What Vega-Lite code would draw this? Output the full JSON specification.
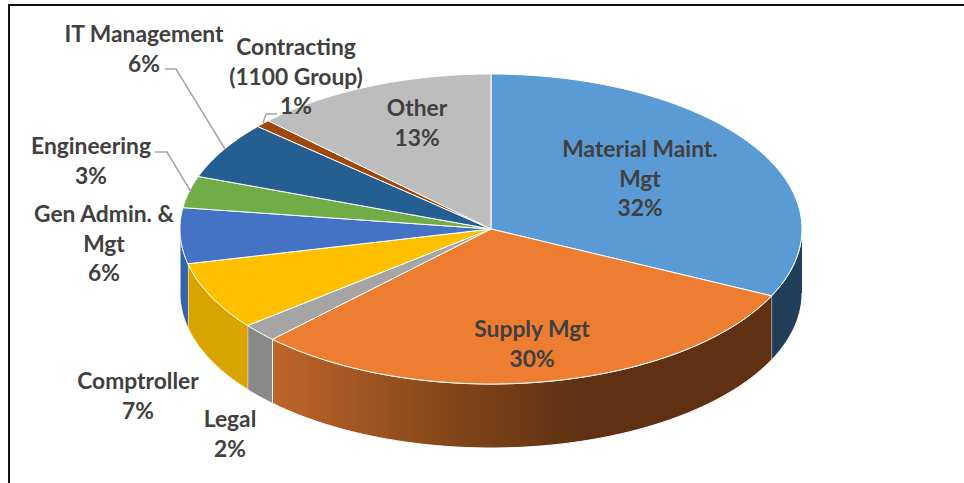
{
"$schema":"https://vega.github.io/schema/vega-lite/v6.json",
"autosize":"none",
"width":964,"height":483,"padding":0,
"background":"white",
"view":{"stroke":null},
"config":{"style":{"cell":{"stroke":null}}},
"datasets":{
"slices":[
{"rank":1,"name":"Material Maint. Mgt","share":32.1,"label":"Material Maint.\nMgt\n32%"},
{"rank":2,"name":"Supply Mgt","share":30.3,"label":"Supply Mgt\n30%"},
{"rank":3,"name":"Legal","share":1.9,"label":"Legal\n2%"},
{"rank":4,"name":"Comptroller","share":7.1,"label":"Comptroller\n7%"},
{"rank":5,"name":"Gen Admin. & Mgt","share":5.8,"label":"Gen Admin. &\nMgt\n6%"},
{"rank":6,"name":"Engineering","share":3.3,"label":"Engineering\n3%"},
{"rank":7,"name":"IT Management","share":6.0,"label":"IT Management\n6%"},
{"rank":8,"name":"Contracting (1100 Group)","share":0.8,"label":"Contracting\n(1100 Group)\n1%"},
{"rank":9,"name":"Other","share":12.7,"label":"Other\n13%"}
],
"callouts":[
{"path":"IT Management","step":1,"px":165,"py":69},
{"path":"IT Management","step":2,"px":176,"py":69},
{"path":"IT Management","step":3,"px":225,"py":149},
{"path":"Engineering","step":1,"px":155,"py":152},
{"path":"Engineering","step":2,"px":167,"py":152},
{"path":"Engineering","step":3,"px":191,"py":192},
{"path":"Contracting","step":1,"px":277,"py":114},
{"path":"Contracting","step":2,"px":266,"py":114},
{"path":"Contracting","step":3,"px":263,"py":123}
],
"frame":[
{"path":"outer","step":1,"px":9,"py":483},
{"path":"outer","step":2,"px":9,"py":5},
{"path":"outer","step":3,"px":964,"py":5}
]
},
"encoding":{
"x":{"field":"px","type":"quantitative","axis":null,"scale":{"domain":[0,964],"nice":false,"zero":false}},
"y":{"field":"py","type":"quantitative","axis":null,"scale":{"domain":[483,0],"nice":false,"zero":false}}
},
"layer":[
{
"data":{"name":"slices"},
"transform":[
{"window":[{"op":"sum","field":"share","as":"cum"}],"sort":[{"field":"rank","order":"ascending"}]},
{"calculate":"max((datum.cum-datum.share)*3.6,90)","as":"w0"},
{"calculate":"min(datum.cum*3.6,270)","as":"w1"},
{"filter":"datum.w1>datum.w0 && datum.name!='Supply Mgt'"},
{"calculate":"sequence(0,122)","as":"steps"},
{"flatten":["steps"],"as":["i"]},
{"calculate":"(datum.w0+(datum.w1-datum.w0)*(datum.i<=60?datum.i:121-datum.i)/60)*PI/180","as":"t"},
{"calculate":"491+311*sin(datum.t)","as":"px"},
{"calculate":"229-155*cos(datum.t)+(datum.i<=60?0:64)","as":"py"}
],
"mark":{"type":"line","stroke":"white","strokeWidth":1,"strokeJoin":"round"},
"encoding":{
"detail":{"field":"name"},
"order":{"field":"i","type":"quantitative"},
"fill":{"field":"name","type":"nominal","legend":null,"scale":{
"domain":["Material Maint. Mgt","Legal","Comptroller","Gen Admin. & Mgt"],
"range":["#223F59","#898989","#D9A300","#3563AE"]}}
}
},
{
"data":{"name":"slices"},
"transform":[
{"window":[{"op":"sum","field":"share","as":"cum"}],"sort":[{"field":"rank","order":"ascending"}]},
{"calculate":"max((datum.cum-datum.share)*3.6,90)","as":"w0"},
{"calculate":"min(datum.cum*3.6,270)","as":"w1"},
{"filter":"datum.name=='Supply Mgt'"},
{"calculate":"sequence(0,122)","as":"steps"},
{"flatten":["steps"],"as":["i"]},
{"calculate":"(datum.w0+(datum.w1-datum.w0)*(datum.i<=60?datum.i:121-datum.i)/60)*PI/180","as":"t"},
{"calculate":"491+311*sin(datum.t)","as":"px"},
{"calculate":"229-155*cos(datum.t)+(datum.i<=60?0:64)","as":"py"}
],
"mark":{"type":"line","stroke":"white","strokeWidth":1,"strokeJoin":"round",
"fill":{"gradient":"linear","x1":1,"y1":0,"x2":0,"y2":0,"stops":[
{"offset":0,"color":"#5F3112"},{"offset":0.38,"color":"#5F3112"},{"offset":0.62,"color":"#7F4419"},{"offset":1,"color":"#BE6529"}]}},
"encoding":{
"order":{"field":"i","type":"quantitative"}
}
},
{
"data":{"name":"slices"},
"transform":[
{"window":[{"op":"sum","field":"share","as":"cum"}],"sort":[{"field":"rank","order":"ascending"}]},
{"calculate":"(datum.cum-datum.share)*3.6","as":"a0"},
{"calculate":"datum.cum*3.6","as":"a1"},
{"calculate":"sequence(0,63)","as":"steps"},
{"flatten":["steps"],"as":["i"]},
{"calculate":"(datum.a0+(datum.a1-datum.a0)*(datum.i-1)/60)*PI/180","as":"t"},
{"calculate":"(datum.i==0||datum.i==62)?491:491+311*sin(datum.t)","as":"px"},
{"calculate":"(datum.i==0||datum.i==62)?229:229-155*cos(datum.t)","as":"py"},
{"filter":"datum.i<=62"}
],
"mark":{"type":"line","stroke":"white","strokeWidth":1,"strokeJoin":"round"},
"encoding":{
"detail":{"field":"name"},
"order":{"field":"i","type":"quantitative"},
"fill":{"field":"name","type":"nominal","legend":null,"scale":{
"domain":["Material Maint. Mgt","Supply Mgt","Legal","Comptroller","Gen Admin. & Mgt","Engineering","IT Management","Contracting (1100 Group)","Other"],
"range":["#5B9BD5","#ED7D31","#A5A5A5","#FFC000","#4472C4","#70AD47","#255E91","#9E480E","#BDBDBD"]}}
}
},
{
"data":{"name":"callouts"},
"mark":{"type":"line","stroke":"#A6A6A6","strokeWidth":1.5},
"encoding":{"detail":{"field":"path"},"order":{"field":"step","type":"quantitative"}}
},
{
"data":{"name":"frame"},
"mark":{"type":"line","stroke":"#111111","strokeWidth":2},
"encoding":{"order":{"field":"step","type":"quantitative"}}
},
{
"data":{"name":"slices"},
"transform":[
{"calculate":"{'Material Maint. Mgt':[640,150],'Supply Mgt':[532,330],'Legal':[230,420],'Comptroller':[138,382],'Gen Admin. & Mgt':[104,215],'Engineering':[91,147],'IT Management':[144,35],'Contracting (1100 Group)':[296,48],'Other':[417,109]}[datum.name]","as":"spot"},
{"calculate":"datum.spot[0]","as":"px"},
{"calculate":"datum.spot[1]","as":"py"}
],
"mark":{"type":"text","font":"Lato","fontWeight":700,"fontSize":22.8,"color":"#404040","align":"center","baseline":"middle","lineBreak":"\n","lineHeight":29.5},
"encoding":{"text":{"field":"label"}}
}
],
"resolve":{"scale":{"fill":"independent"}}
}
